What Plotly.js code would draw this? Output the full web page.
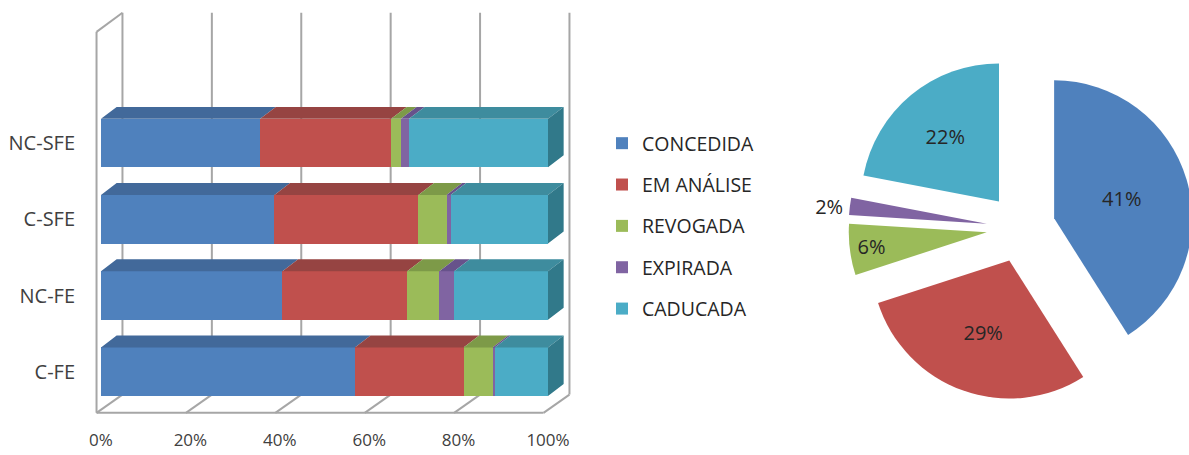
<!DOCTYPE html>
<html><head><meta charset="utf-8">
<script src="https://cdn.plot.ly/plotly-3.0.1.min.js"></script>
<style>html,body{margin:0;padding:0;overflow:hidden;background:#fff}#chart{width:1200px;height:455px}</style>
</head><body><div id="chart"></div><script>
// ---- data ----
const categories = ['C-FE', 'NC-FE', 'C-SFE', 'NC-SFE'];
const statuses = ['CONCEDIDA', 'EM ANÁLISE', 'REVOGADA', 'EXPIRADA', 'CADUCADA'];
const concedida = [56.8, 40.6, 38.8, 35.6];
const emAnalise = [24.3, 27.9, 32.2, 29.3];
const revogada  = [6.5, 7.2, 6.3, 2.2];
const expirada  = [0.5, 3.3, 0.9, 1.8];
const caducada  = [11.9, 21.0, 21.8, 31.1];
const xTickVals = [0, 20, 40, 60, 80, 100];
const xTickText = ['0%', '20%', '40%', '60%', '80%', '100%'];
const pieValues = [41, 29, 6, 2, 22];

// ---- style ----
const FONT = '"Open Sans", Lato, sans-serif';
const colors    = ['#4F81BD', '#C0504D', '#9BBB59', '#8064A2', '#4BACC6'];
const topColors = ['#42699A', '#964442', '#7D9A48', '#67528B', '#3E8C9E'];
const endColor  = '#31798A';
const W = 1200, H = 455;
const fx = p => p / W, fy = p => 1 - p / H;
const BAR_W = 0.636, DX = 3.5, DY = 0.157;
const FRONT = -1.0, BACK = 4.8, FLOOR_F = -0.54, FLOOR_B = -0.30, TOP_F = 4.46, TOP_B = 4.71;
const GRID = '#A6A6A6';

const series = [concedida, emAnalise, revogada, expirada, caducada];
const yIdx = categories.map((_, i) => i);
const traces = [];

// front faces (bars)
series.forEach((vals, s) => {
  traces.push({
    type: 'bar', orientation: 'h', name: statuses[s], legendgroup: 'g' + s,
    y: yIdx, x: vals, width: BAR_W,
    marker: { color: colors[s], line: { width: 0 } },
    xaxis: 'x', yaxis: 'y', hovertemplate: '%{x}%<extra>' + statuses[s] + '</extra>'
  });
});

// top faces computed from cumulative data
const cum = categories.map(() => 0);
series.forEach((vals, s) => {
  const xs = [], ys = [];
  vals.forEach((v, c) => {
    const x0 = cum[c], x1 = cum[c] + v, yt = c + BAR_W / 2;
    xs.push(x0, x1, x1 + DX, x0 + DX, x0, null);
    ys.push(yt, yt, yt + DY, yt + DY, yt, null);
    cum[c] = x1;
  });
  traces.push({
    type: 'scatter', mode: 'lines', x: xs, y: ys, fill: 'toself', fillcolor: topColors[s],
    line: { width: 0, color: topColors[s] }, showlegend: false, legendgroup: 'g' + s,
    hoverinfo: 'skip', xaxis: 'x', yaxis: 'y'
  });
});
// right end faces
{
  const xs = [], ys = [];
  categories.forEach((_, c) => {
    const e = cum[c], yb = c - BAR_W / 2, yt = c + BAR_W / 2;
    xs.push(e, e, e + DX, e + DX, e, null);
    ys.push(yb, yt, yt + DY, yb + DY, yb, null);
  });
  traces.push({
    type: 'scatter', mode: 'lines', x: xs, y: ys, fill: 'toself', fillcolor: endColor,
    line: { width: 0, color: endColor }, showlegend: false, legendgroup: 'g4',
    hoverinfo: 'skip', xaxis: 'x', yaxis: 'y'
  });
}

// pie
const pieFont = { family: FONT, size: 20, color: '#262626' };
traces.push({
  type: 'pie', values: pieValues, labels: statuses, sort: false, direction: 'clockwise', rotation: 0,
  marker: { colors: colors, line: { width: 0 } }, pull: 0.25,
  textinfo: 'percent', textposition: ['inside', 'inside', 'inside', 'outside', 'inside'],
  insidetextorientation: 'horizontal',
  textfont: pieFont, insidetextfont: pieFont, outsidetextfont: pieFont,
  showlegend: false,
  domain: { x: [fx(848.5), fx(1193.5)], y: [fy(400.5), fy(55.5)] }
});

// 3D frame (walls, floor, gridlines) as background shapes
const shapes = [];
const ln = (x0, y0, x1, y1) => shapes.push({ type: 'line', xref: 'x', yref: 'y', x0, y0, x1, y1, layer: 'below', line: { color: GRID, width: 2 } });
xTickVals.forEach(v => {
  ln(v + BACK, FLOOR_B, v + BACK, TOP_B);
  ln(v + FRONT, FLOOR_F, v + BACK, FLOOR_B);
});
ln(FRONT, FLOOR_F, 100 + FRONT, FLOOR_F);
ln(FRONT, FLOOR_F, FRONT, TOP_F);
ln(FRONT, TOP_F, BACK, TOP_B);

const layout = {
  width: W, height: H, margin: { l: 0, r: 0, t: 0, b: 0 },
  paper_bgcolor: '#fff', plot_bgcolor: 'rgba(0,0,0,0)',
  barmode: 'stack', showlegend: true,
  font: { family: FONT, color: '#404040' },
  xaxis: {
    domain: [fx(92.06), fx(574.82)], range: [-2, 106], fixedrange: true,
    tickvals: xTickVals, ticktext: xTickText, showgrid: false, zeroline: false, showline: false,
    ticks: '', ticklabelstandoff: 11, tickfont: { family: FONT, size: 17, color: '#404040' }
  },
  yaxis: {
    domain: [fy(417.42), fy(9.75)], range: [-0.6, 4.75], fixedrange: true,
    tickvals: yIdx, ticktext: categories, showgrid: false, zeroline: false, showline: false,
    ticks: '', ticklabelstandoff: 16, tickfont: { family: FONT, size: 20, color: '#404040' }
  },
  legend: {
    x: fx(602), y: fy(124), xanchor: 'left', yanchor: 'top', traceorder: 'grouped',
    tracegroupgap: 13, font: { family: FONT, size: 19.5, color: '#262626' }, bgcolor: 'rgba(0,0,0,0)'
  },
  shapes: shapes
};

Plotly.newPlot('chart', traces, layout, { displayModeBar: false });
</script></body></html>
